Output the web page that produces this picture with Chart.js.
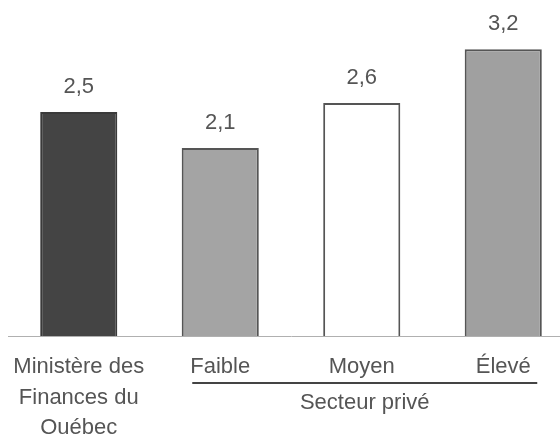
<!DOCTYPE html>
<html>
<head>
<meta charset="utf-8">
<script src="https://cdn.jsdelivr.net/npm/chart.js@4/dist/chart.umd.min.js"></script>
<style>
  html, body { margin: 0; padding: 0; background: #fff; overflow: hidden; }
</style>
</head>
<body>
<canvas id="growthChart" width="574" height="434"></canvas>
<script>
// Categories and values
const categories = [['Ministère des', 'Finances du', 'Québec'], 'Faible', 'Moyen', 'Élevé'];
const values = [2.5, 2.1, 2.6, 3.2];
const groupLabel = 'Secteur privé';
const fillColors = ['#444444', '#a4a4a4', '#ffffff', '#a0a0a0'];
const borderColors = ['#3a3a3a', '#555555', '#555555', '#555555'];

const FONT = "'Liberation Sans', Arial, sans-serif";

// Value labels above each bar + "Secteur privé" group line
const annotations = {
    id: 'annotations',
    afterDatasetsDraw(chart) {
        const ctx = chart.ctx;
        const meta = chart.getDatasetMeta(0);
        ctx.save();
        ctx.font = '22px ' + FONT;
        ctx.fillStyle = '#555555';
        ctx.textAlign = 'center';
        ctx.textBaseline = 'middle';
        meta.data.forEach((bar, i) => {
            ctx.fillText(String(values[i]).replace('.', ','), bar.x, bar.y - 25);
        });

        const x = chart.scales.x;
        const bottom = chart.chartArea.bottom;
        const x1 = x.getPixelForValue(1) - 28;
        const x2 = x.getPixelForValue(3) + 34;
        ctx.strokeStyle = '#444444';
        ctx.lineWidth = 2;
        ctx.beginPath();
        ctx.moveTo(x1, bottom + 47);
        ctx.lineTo(x2, bottom + 47);
        ctx.stroke();
        ctx.fillText(groupLabel, (x1 + x2) / 2, bottom + 67);
        ctx.restore();
    }
};

const ctx = document.getElementById('growthChart').getContext('2d');
new Chart(ctx, {
    type: 'bar',
    data: {
        labels: categories,
        datasets: [{
            data: values,
            backgroundColor: fillColors,
            borderColor: borderColors,
            borderWidth: 2,
            categoryPercentage: 1,
            barPercentage: 0.545
        }]
    },
    options: {
        responsive: false,
        animation: false,
        layout: { padding: { top: 22.5, left: 8, right: 0, bottom: 0 } },
        plugins: {
            legend: { display: false },
            tooltip: { enabled: false }
        },
        scales: {
            y: {
                display: false,
                min: 0,
                max: 3.5
            },
            x: {
                grid: { display: false, drawTicks: false },
                border: { display: true, color: '#b0b0b0', width: 1 },
                ticks: {
                    color: '#555555',
                    padding: 16,
                    maxRotation: 0,
                    autoSkip: false,
                    font: { family: FONT, size: 22, lineHeight: 1.38 }
                },
                afterFit(scale) {
                    scale.height = 98;
                    scale.paddingLeft = 0;
                    scale.paddingRight = 0;
                }
            }
        }
    },
    plugins: [annotations]
});
</script>
</body>
</html>
